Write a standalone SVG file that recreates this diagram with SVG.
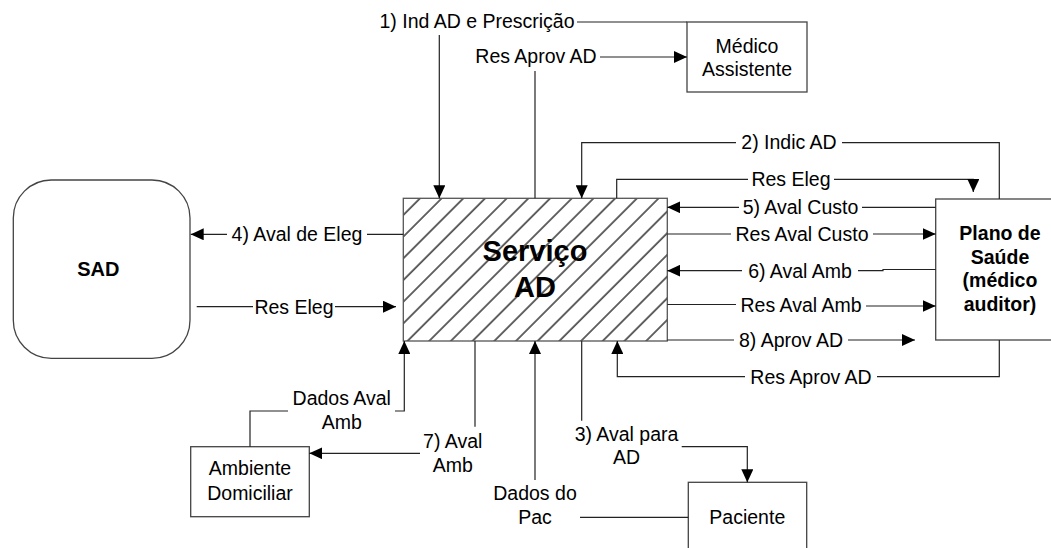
<svg xmlns="http://www.w3.org/2000/svg" width="1051" height="548" viewBox="0 0 1051 548">
  <style>
    .box { fill: #ffffff; stroke: #444444; stroke-width: 1.3; }
    .wire { fill: none; stroke: #222222; stroke-width: 1.2; }
    .arrow { fill: none; stroke: #222222; stroke-width: 1.2; marker-end: url(#head); }
    .lbl { font-family: "Liberation Sans", Arial, sans-serif; font-size: 19.5px; fill: #000000; text-anchor: middle; }
    .bold { font-weight: bold; }
    .big { font-size: 29px; }
  </style>
  <defs>
    <marker id="head" markerUnits="userSpaceOnUse" markerWidth="13" markerHeight="12" refX="13" refY="6" orient="auto">
      <path d="M0,0 L13,6 L0,12 z" fill="#000000"/>
    </marker>
    <!-- diagonal hatching for the central process -->
    <pattern id="hatch" patternUnits="userSpaceOnUse" width="15.34" height="10" patternTransform="rotate(45)">
      <line x1="7.7" y1="-1" x2="7.7" y2="11" stroke="#000000" stroke-width="1.2"/>
    </pattern>
  </defs>

  <!-- nodes -->
  <g id="sad">
    <rect class="box" x="13.3" y="180" width="176.7" height="178.3" rx="38" ry="38" stroke="#222222"/>
    <text class="lbl bold" x="98.3" y="276" style="font-size:20px">SAD</text>
  </g>

  <g id="servico-ad">
    <rect x="403.3" y="198.3" width="264" height="142.7" fill="#ffffff"/>
    <rect x="403.3" y="198.3" width="264" height="142.7" fill="url(#hatch)" stroke="#555555" stroke-width="1.3"/>
    <text class="lbl bold big" x="535" y="260.7">Serviço</text>
    <text class="lbl bold big" x="535" y="297">AD</text>
  </g>

  <g id="medico-assistente">
    <rect class="box" x="687" y="22" width="120" height="70"/>
    <text class="lbl" x="747" y="53">Médico</text>
    <text class="lbl" x="747" y="76">Assistente</text>
  </g>

  <g id="plano-saude">
    <rect class="box" x="935.7" y="199" width="200" height="141"/>
    <text class="lbl bold" x="1000" y="240">Plano de</text>
    <text class="lbl bold" x="1000" y="263.5">Saúde</text>
    <text class="lbl bold" x="1000" y="287">(médico</text>
    <text class="lbl bold" x="1000" y="310.5">auditor)</text>
  </g>

  <g id="ambiente-domiciliar">
    <rect class="box" x="190.7" y="446.7" width="118.6" height="70"/>
    <text class="lbl" x="250" y="475">Ambiente</text>
    <text class="lbl" x="250" y="500">Domiciliar</text>
  </g>

  <g id="paciente">
    <rect class="box" x="688.3" y="482.3" width="118.4" height="80"/>
    <text class="lbl" x="747.3" y="524">Paciente</text>
  </g>

  <!-- connectors -->
  <g id="connectors">
    <g id="c-ind-ad">
      <path class="wire" d="M577,22 H687"/>
      <path class="arrow" d="M439.3,35 V198.3"/>
      <text class="lbl" x="477" y="28">1) Ind AD e Prescrição</text>
    </g>
    <g id="c-res-aprov-medico">
      <path class="wire" d="M535,198.3 V71"/>
      <path class="arrow" d="M600,57 H687"/>
      <text class="lbl" x="536" y="63">Res Aprov AD</text>
    </g>
    <g id="c-indic-ad">
      <path class="wire" d="M999.3,199 V142.7 H842"/>
      <path class="arrow" d="M736,142.7 H581.7 V198.3"/>
      <text class="lbl" x="789" y="149">2) Indic AD</text>
    </g>
    <g id="c-res-eleg-plano">
      <path class="wire" d="M616.7,198.3 V179.3 H748"/>
      <path class="arrow" d="M834,179.3 H973.3 V192"/>
      <text class="lbl" x="791" y="186">Res Eleg</text>
    </g>
    <g id="c-aval-custo">
      <path class="wire" d="M935.7,207.3 H862"/>
      <path class="arrow" d="M739,207.3 H667.3"/>
      <text class="lbl" x="800.5" y="214">5) Aval Custo</text>
    </g>
    <g id="c-res-aval-custo">
      <path class="wire" d="M667.3,234 H731"/>
      <path class="arrow" d="M873,234 H935.7"/>
      <text class="lbl" x="802" y="240.5">Res Aval Custo</text>
    </g>
    <g id="c-aval-amb-plano">
      <path class="wire" d="M935.7,269.5 H883 V270.7 H858"/>
      <path class="arrow" d="M742,270.7 H667.3"/>
      <text class="lbl" x="800" y="277.5">6) Aval Amb</text>
    </g>
    <g id="c-res-aval-amb">
      <path class="wire" d="M667.3,304.5 H736"/>
      <path class="arrow" d="M866,306 H935.7"/>
      <text class="lbl" x="801" y="312">Res Aval Amb</text>
    </g>
    <g id="c-aprov-ad">
      <path class="wire" d="M667.3,340 H734"/>
      <path class="arrow" d="M848,340 H915"/>
      <text class="lbl" x="791" y="347">8) Aprov AD</text>
    </g>
    <g id="c-res-aprov-plano">
      <path class="wire" d="M999.3,340 V376.7 H877"/>
      <path class="arrow" d="M745,376.7 H617.3 V341"/>
      <text class="lbl" x="811" y="383.5">Res Aprov AD</text>
    </g>
    <g id="c-aval-eleg">
      <path class="wire" d="M403.3,234.3 H367"/>
      <path class="arrow" d="M227,234.3 H190.7"/>
      <text class="lbl" x="297" y="241">4) Aval de Eleg</text>
    </g>
    <g id="c-res-eleg-sad">
      <path class="wire" d="M196.7,306.7 H253"/>
      <path class="arrow" d="M335,306.7 H396"/>
      <text class="lbl" x="294" y="313.5">Res Eleg</text>
    </g>
    <g id="c-dados-aval-amb">
      <path class="wire" d="M250,446.7 V411 H288"/>
      <path class="arrow" d="M395,411 H404.3 V341"/>
      <text class="lbl" x="341.7" y="405">Dados Aval</text>
      <text class="lbl" x="341.7" y="428.5">Amb</text>
    </g>
    <g id="c-aval-amb-dom">
      <path class="wire" d="M475,341 V426.7"/>
      <path class="arrow" d="M420,453.3 H309.3"/>
      <text class="lbl" x="452.7" y="448">7) Aval</text>
      <text class="lbl" x="452.7" y="471.5">Amb</text>
    </g>
    <g id="c-dados-pac">
      <path class="wire" d="M688.3,517.3 H580"/>
      <path class="arrow" d="M535,480 V341"/>
      <text class="lbl" x="535" y="500">Dados do</text>
      <text class="lbl" x="535" y="523.5">Pac</text>
    </g>
    <g id="c-aval-para-ad">
      <path class="wire" d="M581.7,341 V420.7"/>
      <path class="arrow" d="M681.7,446.7 H747.3 V482.3"/>
      <text class="lbl" x="626.5" y="441">3) Aval para</text>
      <text class="lbl" x="626.5" y="464">AD</text>
    </g>
  </g>
</svg>
